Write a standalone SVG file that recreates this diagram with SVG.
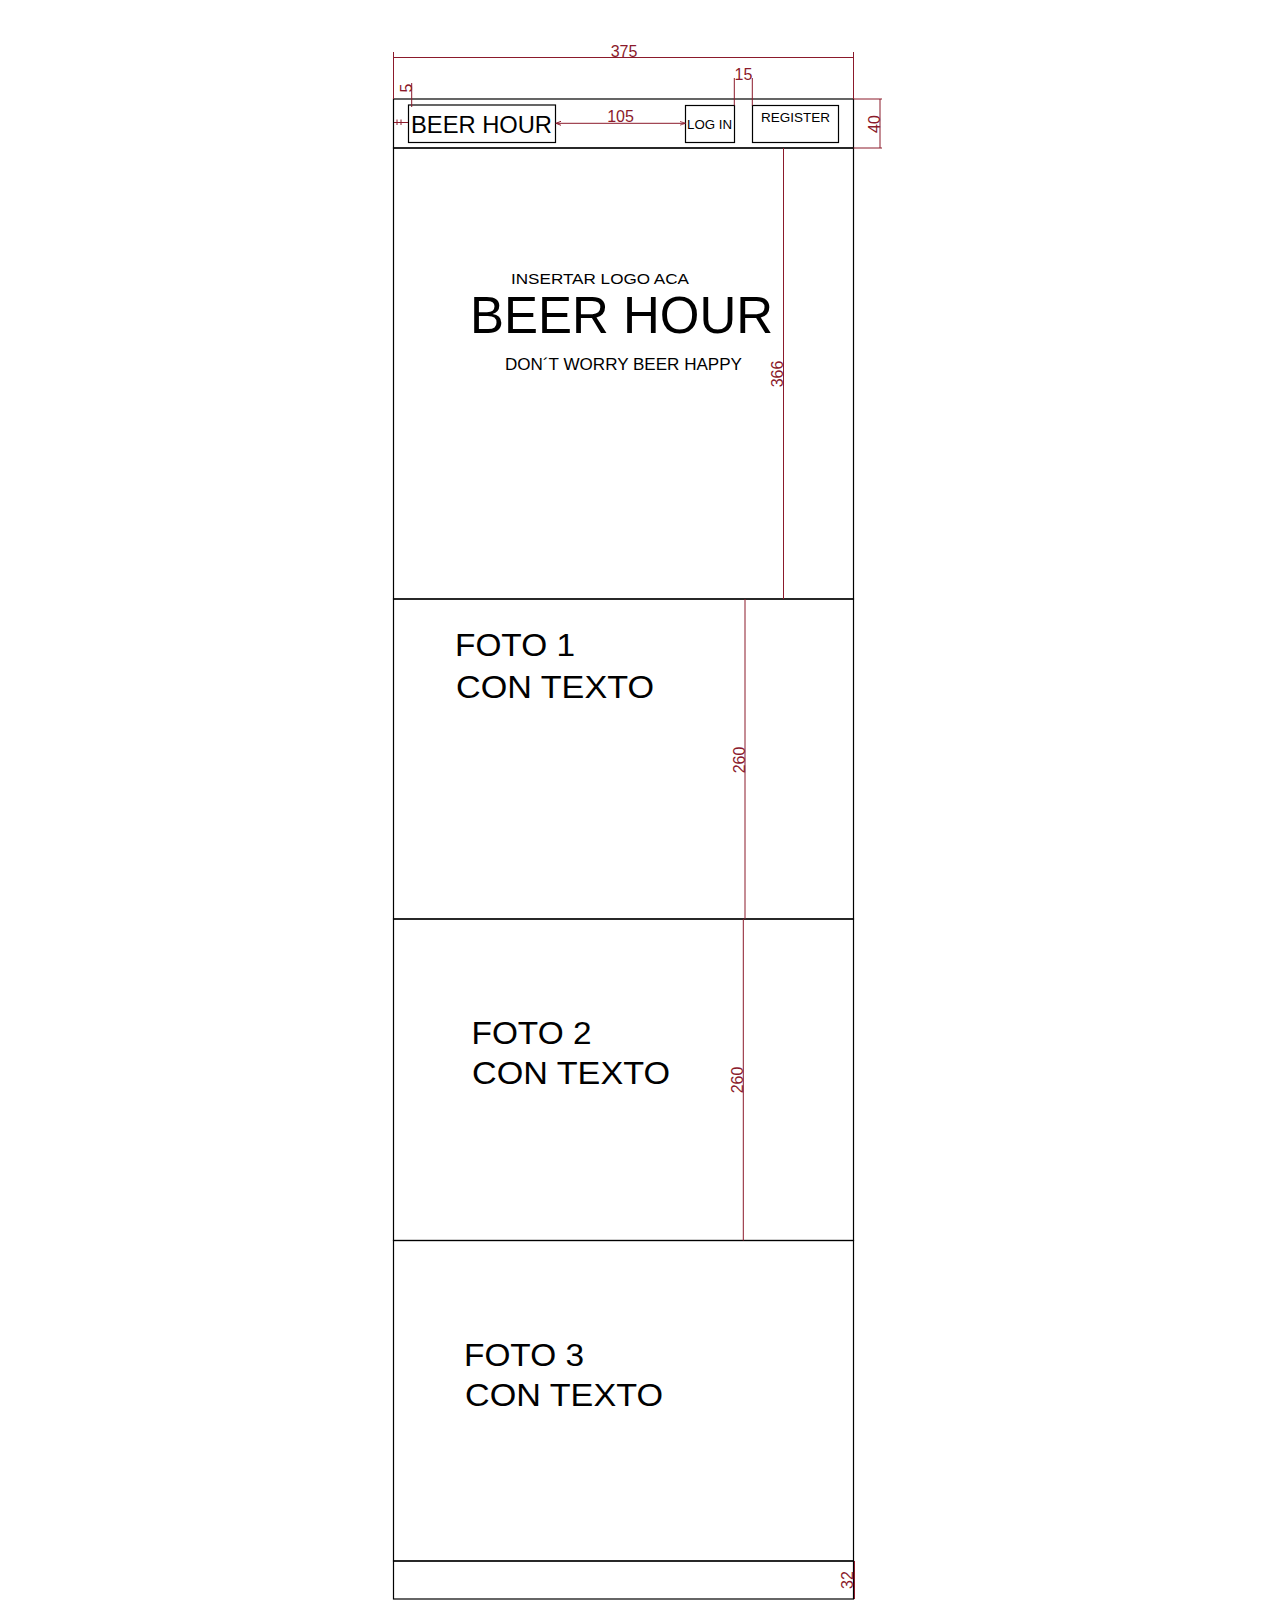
<svg xmlns="http://www.w3.org/2000/svg" width="1280" height="1600" viewBox="0 0 1280 1600">
<defs>
<style>
.frame{fill:none;stroke:#000;stroke-width:1.2}
.dim{fill:none;stroke:#8B1A2B;stroke-width:1}
.dt{font-family:"Liberation Sans",Arial,sans-serif;font-size:16px;fill:#8B1A2B}
.t{font-family:"Liberation Sans",Arial,sans-serif;fill:#000}
</style>
<marker id="arr" markerWidth="6" markerHeight="6" refX="6" refY="3" orient="auto" markerUnits="userSpaceOnUse">
<path d="M0,1 L6,3 L0,5" fill="none" stroke="#8B1A2B" stroke-width="0.8"/>
</marker>
</defs>
<rect width="1280" height="1600" fill="#fff"/>

<g id="header">
<rect class="frame" x="393.5" y="99" width="460" height="49"/>
<g id="logo-box">
<rect class="frame" x="408.5" y="105" width="147" height="37.5"/>
<text class="t" x="411" y="133" font-size="24" textLength="141" lengthAdjust="spacingAndGlyphs">BEER HOUR</text>
</g>
<g id="login-box">
<rect class="frame" x="685.5" y="105.5" width="49" height="37"/>
<text class="t" x="687" y="128.5" font-size="13.5" textLength="45" lengthAdjust="spacingAndGlyphs">LOG IN</text>
</g>
<g id="register-box">
<rect class="frame" x="752.5" y="105.5" width="86" height="37"/>
<text class="t" x="761" y="121.5" font-size="13" textLength="69" lengthAdjust="spacingAndGlyphs">REGISTER</text>
</g>
</g>

<g id="hero">
<rect class="frame" x="393.5" y="148" width="460" height="451"/>
<text class="t" x="511" y="283.5" font-size="14.5" textLength="178" lengthAdjust="spacingAndGlyphs">INSERTAR LOGO ACA</text>
<text class="t" x="470" y="333" font-size="52" textLength="303" lengthAdjust="spacingAndGlyphs">BEER HOUR</text>
<text class="t" x="505" y="370" font-size="16.5" textLength="237" lengthAdjust="spacingAndGlyphs">DON´T WORRY BEER HAPPY</text>
</g>

<g id="foto1">
<rect class="frame" x="393.5" y="599" width="460" height="320"/>
<text class="t" x="455" y="656" font-size="31.5" textLength="120" lengthAdjust="spacingAndGlyphs">FOTO 1</text>
<text class="t" x="456" y="698" font-size="31.5" textLength="198" lengthAdjust="spacingAndGlyphs">CON TEXTO</text>
</g>

<g id="foto2">
<rect class="frame" x="393.5" y="919" width="460" height="321.5"/>
<text class="t" x="471.5" y="1043.5" font-size="31.5" textLength="120" lengthAdjust="spacingAndGlyphs">FOTO 2</text>
<text class="t" x="472" y="1084" font-size="31.5" textLength="198" lengthAdjust="spacingAndGlyphs">CON TEXTO</text>
</g>

<g id="foto3">
<rect class="frame" x="393.5" y="1240.5" width="460" height="320.5"/>
<text class="t" x="464" y="1365.5" font-size="31.5" textLength="120" lengthAdjust="spacingAndGlyphs">FOTO 3</text>
<text class="t" x="465" y="1405.5" font-size="31.5" textLength="198" lengthAdjust="spacingAndGlyphs">CON TEXTO</text>
</g>

<g id="footer">
<rect class="frame" x="393.5" y="1561" width="460" height="38"/>
</g>

<g id="connectors">
<line class="dim" x1="393.5" y1="52" x2="393.5" y2="99"/>
<line class="dim" x1="853.5" y1="52" x2="853.5" y2="99"/>
<line class="dim" x1="393.5" y1="57.5" x2="853.5" y2="57.5"/>
<text class="dt" x="624" y="56.5" text-anchor="middle">375</text>
<line class="dim" x1="411.7" y1="83" x2="411.7" y2="107"/>
<text class="dt" transform="translate(411.5,88) rotate(-90)" text-anchor="middle">5</text>
<line class="dim" x1="394" y1="122.5" x2="408" y2="122.5"/>
<line class="dim" x1="397" y1="119.5" x2="397" y2="125"/>
<line class="dim" x1="401" y1="119.5" x2="401" y2="125"/>
<line class="dim" x1="555.5" y1="123.3" x2="685.5" y2="123.3" marker-end="url(#arr)"/>
<path class="dim" d="M561,121.3 L556,123.3 L561,125.3"/>
<text class="dt" x="620.5" y="122" text-anchor="middle">105</text>
<line class="dim" x1="734.3" y1="78" x2="734.3" y2="105.5"/>
<line class="dim" x1="752.3" y1="78" x2="752.3" y2="105.5"/>
<text class="dt" x="743.5" y="80" text-anchor="middle">15</text>
<line class="dim" x1="853.5" y1="99" x2="882" y2="99"/>
<line class="dim" x1="853.5" y1="148" x2="882" y2="148"/>
<line class="dim" x1="880" y1="99" x2="880" y2="148"/>
<text class="dt" transform="translate(879.5,124) rotate(-90)" text-anchor="middle">40</text>
<line class="dim" x1="783.5" y1="148" x2="783.5" y2="599"/>
<text class="dt" transform="translate(783,374) rotate(-90)" text-anchor="middle">366</text>
<line class="dim" x1="745" y1="599" x2="745" y2="919"/>
<text class="dt" transform="translate(744.5,760) rotate(-90)" text-anchor="middle">260</text>
<line class="dim" x1="743.3" y1="919" x2="743.3" y2="1240.5"/>
<text class="dt" transform="translate(742.8,1080) rotate(-90)" text-anchor="middle">260</text>
<line class="dim" x1="854.5" y1="1561" x2="854.5" y2="1599"/>
<text class="dt" transform="translate(853,1580) rotate(-90)" text-anchor="middle">32</text>
</g>
</svg>
